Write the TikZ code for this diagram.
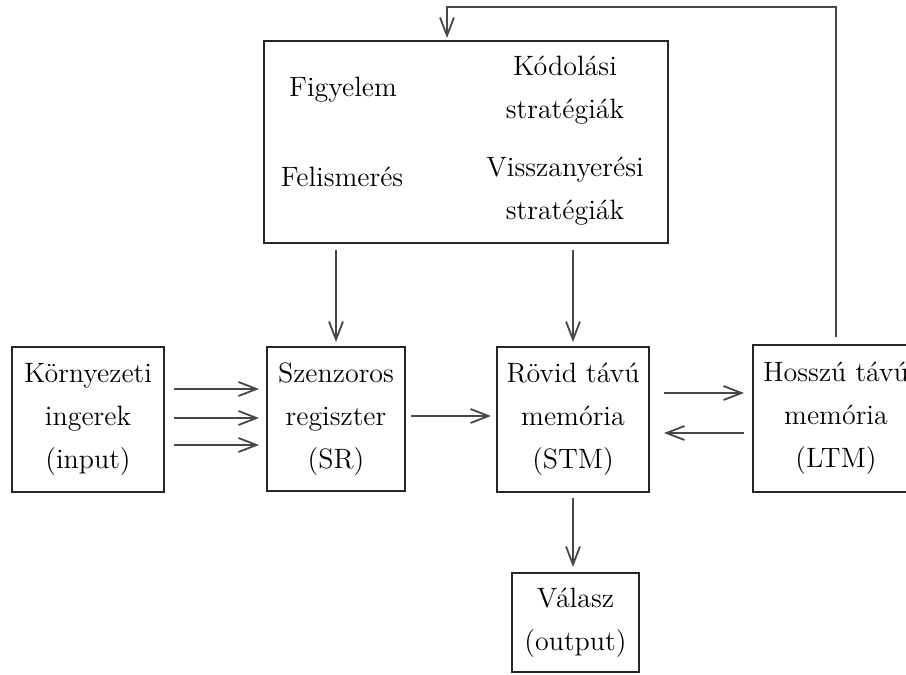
\documentclass[tikz,border=0pt]{standalone}
\usetikzlibrary{arrows.meta}

\tikzset{
	box/.style={draw=black!85, line width=1pt, align=center, inner sep=0pt,
		font=\fontsize{14}{21.5}\selectfont},
	lbl/.style={align=center, inner sep=0pt, font=\fontsize{14}{21.5}\selectfont},
	arr/.style={draw=black!72, line width=0.9pt, -{Straight Barb[length=9pt,width=7pt]}},
}

\begin{document}
\begin{tikzpicture}[x=0.5pt,y=-0.5pt]
	\clip (0,0) rectangle (906,675);
	\fill[white] (0,0) rectangle (906,675);

	% control processes
	\node[box, minimum width=202pt, minimum height=101pt] (ctrl) at (466,142) {};
	\node[lbl] (fig) at (343,90) {Figyelem};
	\node[lbl] (kod) at (565,90) {Kódolási\\stratégiák};
	\node[lbl] (fel) at (342,177) {Felismerés};
	\node[lbl] (vissza) at (565,191.5) {Visszanyerési\\stratégiák};

	% stores
	\node[box, minimum width=76pt, minimum height=72.5pt] (ker) at (88,419.5) {Környezeti\\ingerek\\(input)};
	\node[box, minimum width=69pt, minimum height=72pt] (sr) at (336,419) {Szenzoros\\regiszter\\(SR)};
	\node[box, minimum width=76pt, minimum height=72.5pt] (stm) at (573,419.5) {Rövid távú\\memória\\(STM)};
	\node[box, minimum width=83pt, minimum height=73.5pt] (ltm) at (836,418.5) {Hosszú távú\\memória\\(LTM)};
	\node[box, minimum width=63.5pt, minimum height=49.5pt] (val) at (575.5,622.5) {Válasz\\(output)};

	\coordinate (top) at (447,7);

	\foreach \y in {389,418,445}
		\draw[arr, shorten <=4.5pt, shorten >=3.5pt] (ker.east |- 0,\y) -- (sr.west |- 0,\y);
	\draw[arr, shorten <=3pt, shorten >=2pt] (sr.north |- ctrl.south) -- (sr.north);
	\draw[arr, shorten <=3pt, shorten >=2pt] (stm.north |- ctrl.south) -- (stm.north);
	\draw[arr, shorten <=2.5pt, shorten >=2.5pt] (sr.east |- 0,416) -- (stm.west |- 0,416);
	\draw[arr, shorten <=7pt, shorten >=4pt] (stm.east |- 0,393) -- (ltm.west |- 0,393);
	\draw[arr, shorten <=4pt, shorten >=7pt] (ltm.west |- 0,433) -- (stm.east |- 0,433);
	\draw[arr, shorten <=2.5pt, shorten >=2.5pt] (stm.south) -- (val.north -| stm.south);
	\draw[arr, shorten <=3.5pt, shorten >=1pt] (ltm.north) -- (ltm.north |- top) -- (top) -- (ctrl.north -| top);
\end{tikzpicture}
\end{document}
